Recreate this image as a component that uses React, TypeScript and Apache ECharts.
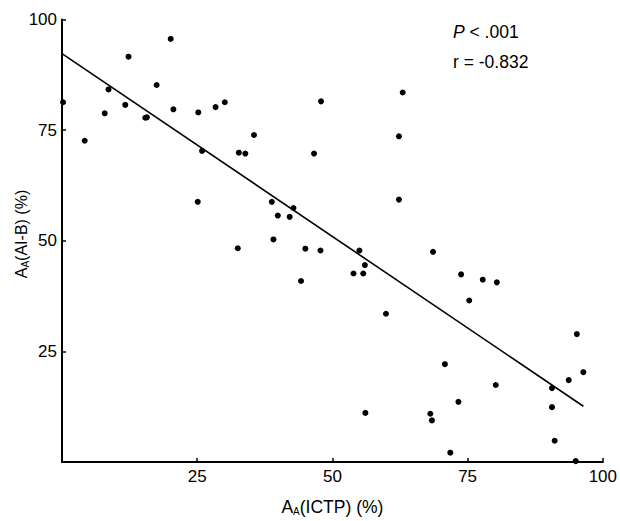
import React, { useEffect, useRef } from "react";
import * as echarts from "echarts";

const xValues = [0.2, 4.2, 20.1, 12.3, 8.6, 17.5, 7.9, 11.7, 15.4, 15.7, 20.6, 25.2, 28.4, 25.9, 30.1, 47.9, 63.0, 35.5, 32.7, 33.9, 46.6, 62.3, 25.1, 38.8, 62.3, 42.8, 39.9, 42.1, 39.1, 32.5, 45.0, 47.8, 55.0, 56.0, 53.9, 55.7, 44.2, 59.9, 68.6, 73.8, 77.8, 80.4, 75.3, 95.2, 56.1, 70.8, 80.2, 73.3, 68.1, 68.4, 71.8, 90.6, 93.7, 96.4, 90.6, 91.1, 95.0];
const yValues = [81.3, 72.6, 95.6, 91.6, 84.2, 85.2, 78.8, 80.7, 77.8, 77.9, 79.7, 79.0, 80.2, 70.3, 81.3, 81.5, 83.5, 73.9, 69.9, 69.7, 69.7, 73.6, 58.8, 58.8, 59.3, 57.4, 55.7, 55.4, 50.3, 48.3, 48.2, 47.8, 47.8, 44.5, 42.6, 42.6, 40.9, 33.5, 47.5, 42.4, 41.2, 40.6, 36.5, 28.9, 11.1, 22.1, 17.4, 13.6, 10.9, 9.4, 2.1, 16.7, 18.5, 20.3, 12.4, 4.8, 0.2];
const fitX = [0, 96.4];
const fitY = [92.3, 12.6];
const tickValues = [25, 50, 75, 100];
const pText = ".001";
const rText = "r = -0.832";

const FONT = "'Liberation Sans', Arial, Helvetica, sans-serif";

export default function App() {
  const ref = useRef<HTMLDivElement>(null);
  useEffect(() => {
    if (!ref.current) return;
    const chart = echarts.init(ref.current, null, { renderer: "svg" });
    const axisCommon = {
      type: "value",
      min: 0,
      max: 100,
      interval: 25,
      splitLine: { show: false },
      axisLine: { show: true, onZero: false, lineStyle: { color: "#000", width: 2 } },
      axisTick: { show: true, inside: true, length: 4, lineStyle: { color: "#000", width: 1.5 } },
      axisLabel: {
        color: "#000",
        fontSize: 17,
        fontFamily: FONT,
        formatter: (v: number) => (tickValues.includes(v) ? String(v) : ""),
      },
    };
    chart.setOption({
      animation: false,
      backgroundColor: "#fff",
      grid: { left: 62, right: 13, top: 19.5, bottom: 54, containLabel: false },
      xAxis: {
        ...axisCommon,
        axisLabel: { ...axisCommon.axisLabel, margin: 6 },
        name: "{a|A}{s|A}{a|(ICTP) (%)}",
        nameLocation: "middle",
        nameGap: 35,
        nameTextStyle: {
          rich: {
            a: { fontSize: 17.5, fontFamily: FONT, color: "#000" },
            s: { fontSize: 10, fontFamily: FONT, color: "#000", verticalAlign: "bottom", padding: [9, 0, 0, 0] },
          },
        },
      },
      yAxis: {
        ...axisCommon,
        axisLabel: { ...axisCommon.axisLabel, margin: 5 },
      },
      series: [
        {
          type: "scatter",
          data: xValues.map((x, i) => [x, yValues[i]]),
          symbol: "circle",
          symbolSize: 6,
          itemStyle: { color: "#000", opacity: 1 },
          clip: false,
        },
        {
          type: "line",
          data: fitX.map((x, i) => [x, fitY[i]]),
          symbol: "none",
          lineStyle: { color: "#000", width: 1.6 },
        },
      ],
      graphic: [
        {
          type: "text",
          x: 21,
          y: 234,
          rotation: Math.PI / 2,
          style: {
            text: "{a|A}{s|A}{a|(AI-B) (%)}",
            align: "center",
            verticalAlign: "middle",
            rich: {
              a: { fontSize: 16, fontFamily: FONT, fill: "#000" },
              s: { fontSize: 10, fontFamily: FONT, fill: "#000", verticalAlign: "bottom", padding: [8, 0, 0, 0] },
            },
          },
        },
        {
          type: "text",
          x: 453,
          y: 32,
          style: {
            text: "{i|P}{n| < " + pText + "}",
            verticalAlign: "middle",
            rich: {
              i: { fontSize: 17.5, fontStyle: "italic", fontFamily: FONT, fill: "#000" },
              n: { fontSize: 17.5, fontFamily: FONT, fill: "#000" },
            },
          },
        },
        {
          type: "text",
          x: 453,
          y: 62,
          style: { text: rText, fontSize: 17.5, fontFamily: FONT, fill: "#000", verticalAlign: "middle" },
        },
      ],
    });
    return () => chart.dispose();
  }, []);
  return (
    <div
      ref={ref}
      style={{ position: "fixed", left: 0, top: 0, width: 620, height: 521, background: "#fff" }}
    />
  );
}
